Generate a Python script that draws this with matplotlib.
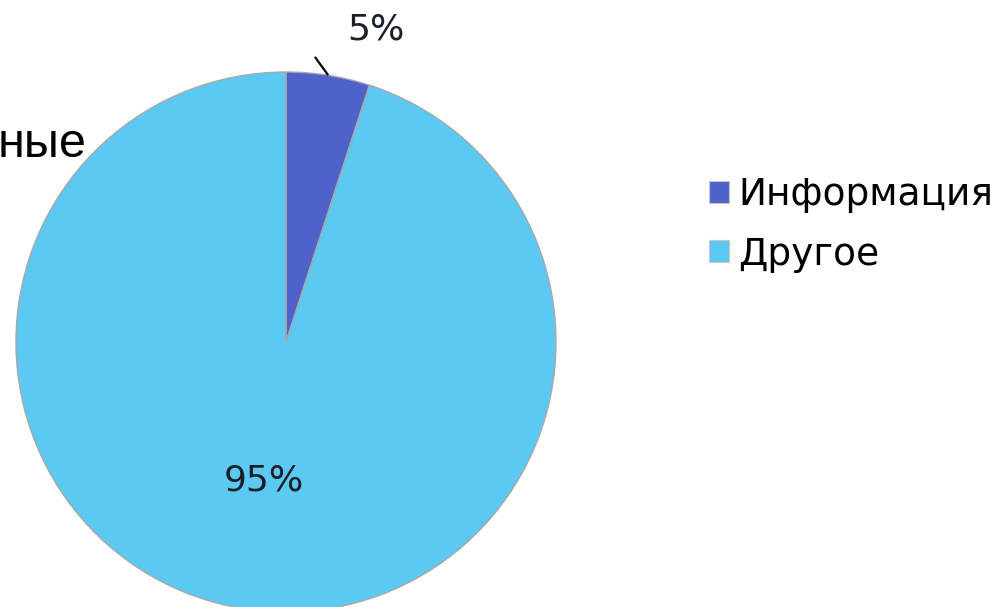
import numpy as np
import matplotlib
matplotlib.use("Agg")
import matplotlib.pyplot as plt

# data
categories = ["Информация", "Другое"]
shares = [5, 95]
colors = ["#4F62C9", "#5BC9F1"]
title_tail = "ные"

fig = plt.figure(figsize=(10.04, 6.07), dpi=100)
fig.patch.set_facecolor("white")

# pie occupies a 540 px square, centred at (286, 342) px, bottom cut by the edge
ax = fig.add_axes([16 / 1004, -5 / 607, 540 / 1004, 540 / 607])
wedges, _ = ax.pie(shares, colors=colors, startangle=90, counterclock=False,
                   radius=1.0,
                   wedgeprops=dict(edgecolor="#A8A8A8", linewidth=1.0))
ax.set_xlim(-1, 1)
ax.set_ylim(-1, 1)
ax.set_aspect("equal")
ax.axis("off")

lab_font = dict(family="DejaVu Sans", fontsize=26, color="#1b1f2a")

# small slice: outside label with a short leader line
w = wedges[0]
mid = np.deg2rad((w.theta1 + w.theta2) / 2)
ax.plot([np.cos(mid), 0.107], [np.sin(mid), 1.056], color="black",
        linewidth=1.6, clip_on=False, solid_capstyle="butt")
ax.text(0.333, 1.156, f"{shares[0]}%", ha="center", va="center",
        clip_on=False, **lab_font)

# big slice: inside label
w = wedges[1]
mid = np.deg2rad((w.theta1 + w.theta2) / 2)
ax.text(0.52 * np.cos(mid), 0.52 * np.sin(mid), f"{shares[1]}%",
        ha="center", va="center", **lab_font)

# title fragment at the left edge, drawn over the pie
fig.text(87 / 1004, 1 - 157 / 607, title_tail, ha="right", va="baseline",
         family="Liberation Sans", fontsize=35, color="black")

leg = fig.legend(wedges, categories, loc="center left",
                 bbox_to_anchor=(709 / 1004, 1 - 225 / 607),
                 frameon=False, borderpad=0, borderaxespad=0,
                 handlelength=0.53, handleheight=0.53, handletextpad=0.26,
                 labelspacing=0.62,
                 prop=dict(family="DejaVu Sans", size=27))
for h in leg.legend_handles:
    h.set_edgecolor("#C8C8C8")
    h.set_linewidth(0.8)

fig.savefig("out.png", dpi=100)
